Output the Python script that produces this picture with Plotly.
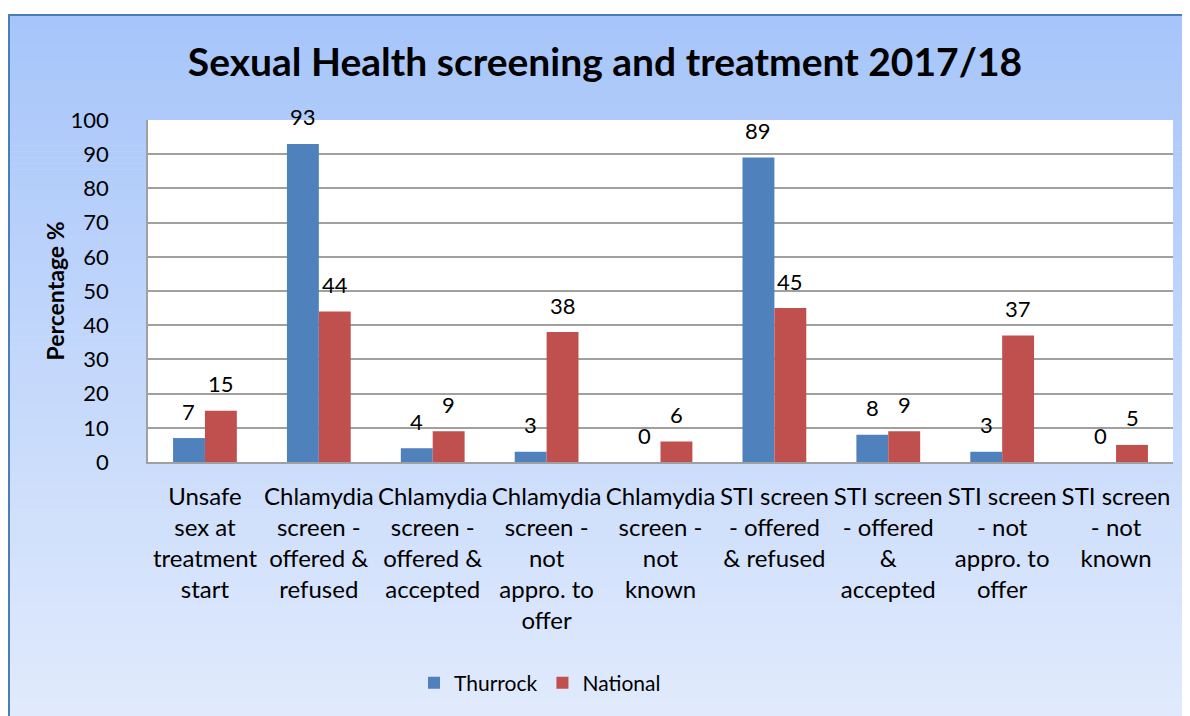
import plotly.graph_objects as go

categories = ["Unsafe<br>sex at<br>treatment<br>start",
              "Chlamydia<br>screen -<br>offered &<br>refused",
              "Chlamydia<br>screen -<br>offered &<br>accepted",
              "Chlamydia<br>screen -<br>not<br>appro. to<br>offer",
              "Chlamydia<br>screen -<br>not<br>known",
              "STI screen<br>- offered<br>& refused",
              "STI screen<br>- offered<br>&<br>accepted",
              "STI screen<br>- not<br>appro. to<br>offer",
              "STI screen<br>- not<br>known"]
thurrock = [7, 93, 4, 3, 0, 89, 8, 3, 0]
national = [15, 44, 9, 38, 6, 45, 9, 37, 5]
y_ticks = list(range(0, 101, 10))

W, H = 1190, 716
OFF = 8  # page body margin
L, R, T, B = 148 - OFF, 1173 - OFF, 120 - OFF, 462 - OFF
FONT = "Lato"
BLUE = "#4f81bd"
RED = "#c0504d"

def px_x(p):  # page pixel -> paper x
    return (p - OFF - L) / (R - L)

def px_y(p):  # page pixel -> paper y
    return (B - (p - OFF)) / (B - T)

fig = go.Figure()
fig.add_trace(go.Bar(name="Thurrock", x=categories, y=thurrock, marker_color=BLUE,
                     marker_line_width=0))
fig.add_trace(go.Bar(name="National", x=categories, y=national, marker_color=RED,
                     marker_line_width=0))

shapes = []
top_c = (166, 197, 250)
bot_c = (226, 235, 252)
y_top, y_bot = 14, 730
n = 120
for i in range(n):
    t = i / (n - 1)
    c = tuple(round(top_c[k] + (bot_c[k] - top_c[k]) * t) for k in range(3))
    p0 = y_top + (y_bot - y_top) * i / n
    p1 = y_top + (y_bot - y_top) * (i + 1) / n + 0.6
    shapes.append(dict(type="rect", xref="paper", yref="paper", layer="below",
                       x0=px_x(8), x1=px_x(1205), y0=px_y(p1), y1=px_y(p0),
                       fillcolor="rgb(%d,%d,%d)" % c, line_width=0))
shapes.append(dict(type="rect", xref="paper", yref="paper", layer="below",
                   x0=0, x1=1, y0=0, y1=1, fillcolor="white", line_width=0))
shapes.append(dict(type="rect", xref="paper", yref="paper", layer="below",
                   x0=px_x(9), x1=px_x(1210), y0=px_y(735), y1=px_y(15),
                   fillcolor="rgba(0,0,0,0)", line=dict(color="#4a7ebb", width=2)))

annotations = []
for cat, tv, nv in zip(categories, thurrock, national):
    annotations.append(dict(x=cat, y=tv, xref="x", yref="y", text=str(tv), showarrow=False,
                            xshift=-16, yshift=27, yanchor="middle",
                            font=dict(family=FONT, size=22, color="#000")))
    annotations.append(dict(x=cat, y=nv, xref="x", yref="y", text=str(nv), showarrow=False,
                            xshift=16, yshift=27, yanchor="middle",
                            font=dict(family=FONT, size=22, color="#000")))

fig.update_layout(
    width=W, height=H,
    margin=dict(l=L, r=W - R, t=T, b=H - B, autoexpand=False),
    paper_bgcolor="white", plot_bgcolor="white",
    barmode="group", bargap=0.44, bargroupgap=0,
    title=dict(text="<b>Sexual Health screening and treatment 2017/18</b>",
               x=(605 - OFF) / W, xanchor="center", y=1 - (62 - OFF) / H, yanchor="middle",
               xref="container", yref="container",
               font=dict(family=FONT, size=39, color="#000")),
    font=dict(family=FONT, color="#000"),
    shapes=shapes,
    annotations=annotations,
    legend=dict(orientation="h", x=px_x(540), xanchor="center", y=px_y(683),
                yanchor="middle", font=dict(family=FONT, size=21, color="#000"),
                bgcolor="rgba(0,0,0,0)"),
    showlegend=True,
)
fig.update_yaxes(range=[0, 100], tickvals=y_ticks, showgrid=True, gridcolor="#a0a0a0",
                 gridwidth=1.5, showline=True, linecolor="#a0a0a0", linewidth=1.5,
                 zeroline=False, ticks="", ticklabelstandoff=33,
                 tickfont=dict(family=FONT, size=22, color="#000"),
                 title=dict(text="<b>Percentage %</b>", standoff=0,
                            font=dict(family=FONT, size=23, color="#000")))
fig.update_xaxes(showline=True, linecolor="#a0a0a0", linewidth=1.5, ticks="",
                 tickangle=0, ticklabelstandoff=12,
                 tickfont=dict(family=FONT, size=24, color="#000"))

fig.write_html("out.html")
